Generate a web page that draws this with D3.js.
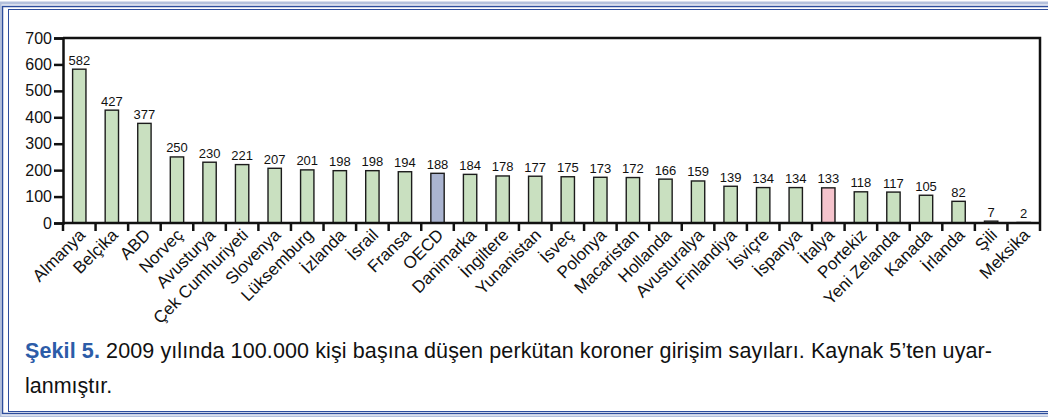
<!DOCTYPE html>
<html>
<head>
<meta charset="utf-8">
<script src="https://cdn.jsdelivr.net/npm/d3@7"></script>
<style>
  body { margin: 0; background: #fff; }
  svg { display: block; font-family: "Liberation Sans", Arial, Helvetica, sans-serif; }
</style>
</head>
<body>
<div id="chart"></div>
<script>
// countries (Turkish names) and PCI per 100.000 people, 2009
var countries = ['Almanya', 'Belçika', 'ABD', 'Norveç', 'Avusturya', 'Çek Cumhuriyeti', 'Slovenya',
  'Lüksemburg', 'İzlanda', 'İsrail', 'Fransa', 'OECD', 'Danimarka', 'İngiltere', 'Yunanistan',
  'İsveç', 'Polonya', 'Macaristan', 'Hollanda', 'Avusturalya', 'Finlandiya', 'İsviçre', 'İspanya',
  'İtalya', 'Portekiz', 'Yeni Zelanda', 'Kanada', 'İrlanda', 'Şili', 'Meksika']
var values = [582, 427, 377, 250, 230, 221, 207, 201, 198, 198, 194, 188, 184, 178, 177,
  175, 173, 172, 166, 159, 139, 134, 134, 133, 118, 117, 105, 82, 7, 2]
var yTicks = [0, 100, 200, 300, 400, 500, 600, 700]

var width = 1048
    height = 417
    margin = {top: 38, right: 8, bottom: 194, left: 63}

var svg = d3.select('#chart')
  .append('svg')
    .attr('width', width)
    .attr('height', height)

// double blue frame
svg.append('rect')
  .attr('x', 0).attr('y', 3).attr('width', width + 10).attr('height', 414)
  .attr('fill', 'none').attr('stroke', '#b3c0dc').attr('stroke-width', 3)
svg.append('rect')
  .attr('x', 2.5).attr('y', 6.5).attr('width', width + 10).attr('height', 407)
  .attr('fill', 'none').attr('stroke', '#2d4d9c').attr('stroke-width', 1.5)
svg.append('rect')
  .attr('x', 8.5).attr('y', 9.5).attr('width', width + 10).attr('height', 402)
  .attr('fill', 'none').attr('stroke', '#2d4d9c').attr('stroke-width', 1)

var innerW = width - margin.left - margin.right
var innerH = height - margin.top - margin.bottom

var g = svg.append('g')
  .attr('transform', 'translate(' + margin.left + ',' + margin.top + ')')

var x = d3.scaleBand()
  .domain(countries)
  .range([0, 977])
  .padding(0)

var y = d3.scaleLinear()
  .domain([0, 700])
  .range([innerH, 0])

// colour per bar
var color = function(d) {
  if (d === 'OECD') return '#aab4d0'
  if (d === 'İtalya') return '#f5c3cc'
  return '#c9e0c0'
}

var barW = x.bandwidth() * 0.41

// bars
g.append('g')
  .selectAll('rect')
  .data(countries)
  .enter()
  .append('rect')
    .attr('x', function(d) { return x(d) + (x.bandwidth() - barW) / 2 })
    .attr('y', function(d, i) { return y(values[i]) })
    .attr('width', barW)
    .attr('height', function(d, i) { return innerH - y(values[i]) })
    .attr('fill', color)
    .attr('stroke', '#1c1c1c')
    .attr('stroke-width', 1.4)

// value labels
g.append('g')
  .selectAll('text')
  .data(countries)
  .enter()
  .append('text')
    .attr('x', function(d) { return x(d) + x.bandwidth() / 2 })
    .attr('y', function(d, i) { return y(values[i]) - 4.5 })
    .attr('text-anchor', 'middle')
    .style('font-size', '13px')
    .attr('fill', '#111')
    .text(function(d, i) { return values[i] })

// box top and right
g.append('path')
  .attr('d', 'M0,0H977V' + innerH)
  .attr('fill', 'none')
  .attr('stroke', '#111')
  .attr('stroke-width', 2.5)

// y axis
var yAxis = g.append('g')
  .call(d3.axisLeft(y).tickValues(yTicks).tickSize(9).tickPadding(2).tickFormat(d3.format('d')))
yAxis.select('.domain').attr('stroke', '#111').attr('stroke-width', 2.5)
yAxis.selectAll('.tick line').attr('stroke', '#111').attr('stroke-width', 2.5)
yAxis.selectAll('.tick text')
  .style('font-size', '16px')
  .style('font-family', '"Liberation Sans", Arial, sans-serif')
  .attr('fill', '#111')

// x axis: ticks at band boundaries
var xAxis = g.append('g')
  .attr('transform', 'translate(0,' + innerH + ')')
xAxis.append('line')
  .attr('x1', 0).attr('x2', 977)
  .attr('stroke', '#111').attr('stroke-width', 2.5)
xAxis.selectAll('line.tk')
  .data(countries.concat(['end']))
  .enter()
  .append('line')
    .attr('class', 'tk')
    .attr('x1', function(d, i) { return i * x.step() })
    .attr('x2', function(d, i) { return i * x.step() })
    .attr('y1', 0).attr('y2', 8)
    .attr('stroke', '#111').attr('stroke-width', 2.5)

xAxis.selectAll('text')
  .data(countries)
  .enter()
  .append('text')
    .attr('transform', function(d) {
      return 'translate(' + (x(d) + x.bandwidth() / 2 + 7) + ',13) rotate(-45)'
    })
    .attr('text-anchor', 'end')
    .style('font-size', '17px')
    .attr('fill', '#111')
    .text(function(d) { return d })

// caption
var cap = svg.append('text')
  .attr('x', 25).attr('y', 358)
  .attr('textLength', 967)
  .attr('lengthAdjust', 'spacing')
  .style('font-size', '21.5px')
  .attr('fill', '#111')
cap.append('tspan')
  .attr('fill', '#2c5ca8')
  .attr('font-weight', 'bold')
  .text('Şekil 5.')
cap.append('tspan')
  .text(' 2009 yılında 100.000 kişi başına düşen perkütan koroner girişim sayıları. Kaynak 5’ten uyar-')

svg.append('text')
  .attr('x', 25).attr('y', 393)
  .style('font-size', '21.5px')
  .attr('fill', '#111')
  .text('lanmıştır.')
</script>
</body>
</html>
